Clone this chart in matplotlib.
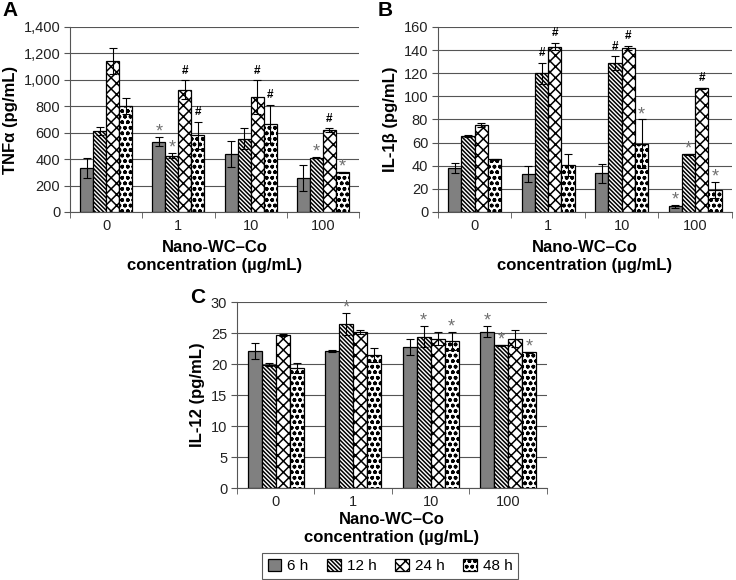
import matplotlib
matplotlib.use("Agg")
import matplotlib.pyplot as plt
import numpy as np

plt.rcParams['font.family'] = ['Liberation Sans', 'DejaVu Sans']
plt.rcParams['hatch.linewidth'] = 1.1

categories = ["0", "1", "10", "100"]
series = ["6 h", "12 h", "24 h", "48 h"]

tnf = [[330, 532, 439, 257],
       [610, 426, 555, 411],
       [1143, 926, 868, 620],
       [802, 580, 668, 300]]
tnf_err = [[75, 35, 95, 95],
           [30, 20, 80, 5],
           [100, 70, 128, 12],
           [60, 100, 145, 5]]
tnf_sig = [["", "*", "", ""],
           ["", "*", "", "*"],
           ["", "#", "#", "#"],
           ["", "#", "#", "*"]]

il1b = [[38, 33, 33.4, 4.9],
        [65.7, 120, 128.6, 49.9],
        [75.5, 143, 141.8, 107],
        [45.5, 41, 59, 19]]
il1b_err = [[4.5, 7, 8.5, 1.5],
            [0.5, 9, 6, 0.5],
            [1.8, 3, 2, 0.5],
            [0.5, 9.5, 21, 7]]
il1b_sig = [["", "", "", "*"],
            ["", "#", "#", "*"],
            ["", "#", "#", "#"],
            ["", "", "*", "*"]]

il12 = [[22.1, 22.1, 22.7, 25.2],
        [19.9, 26.5, 24.4, 23.0],
        [24.7, 25.2, 24.1, 24.1],
        [19.4, 21.45, 23.7, 21.9]]
il12_err = [[1.3, 0.2, 1.3, 0.9],
            [0.3, 1.8, 1.7, 0.1],
            [0.2, 0.3, 1.1, 1.4],
            [0.8, 1.2, 1.5, 0.1]]
il12_sig = [["", "", "", "*"],
            ["", "*", "*", "*"],
            ["", "", "", ""],
            ["", "", "*", "*"]]

faces = ["#808080", "white", "white", "white"]
hatches = [None, "\\" * 8, "xxx", "ooo"]

fig = plt.figure(figsize=(7.36, 5.8), dpi=100)


def panel(rect, data, err, sig, ylim, yticks, ylabel, ytickfmt, letter, letterpos, lp):
    ax = fig.add_axes(rect)
    x = np.arange(len(categories))
    w = 0.18
    handles = []
    for i in range(4):
        pos = x + (i - 1.5) * w
        b = ax.bar(pos, data[i], w, color=faces[i], edgecolor="black", linewidth=0.9,
                   hatch=hatches[i], zorder=3, label=series[i])
        ax.errorbar(pos, data[i], yerr=err[i], fmt="none", ecolor="black",
                    elinewidth=0.8, capsize=3, capthick=0.8, zorder=4)
        handles.append(b)
        for j in range(len(categories)):
            s = sig[i][j]
            if s:
                ytop = data[i][j] + err[i][j]
                if s == "*":
                    ax.text(pos[j], ytop - (ylim[1] - ylim[0]) * 0.02, "*", ha="center",
                            va="bottom", color="#707070", fontsize=13, zorder=5)
                else:
                    ax.text(pos[j], ytop + (ylim[1] - ylim[0]) * 0.02, "#", ha="center",
                            va="bottom", color="black", fontsize=8.5, fontweight="bold",
                            zorder=5)
    ax.set_xlim(-0.5, len(categories) - 0.5)
    ax.set_ylim(*ylim)
    ax.set_yticks(yticks)
    ax.set_yticklabels([ytickfmt(v) for v in yticks], fontsize=10.5, color="#222222")
    ax.set_xticks(x)
    ax.set_xticklabels(categories, fontsize=10.5, color="#222222")
    ax.set_xticks(np.arange(len(categories) + 1) - 0.5, minor=True)
    ax.tick_params(axis="x", which="major", length=0, pad=5)
    ax.tick_params(axis="x", which="minor", length=4, color="#555555")
    ax.tick_params(axis="y", length=4, color="#555555", pad=3)
    ax.grid(axis="y", color="#555555", linewidth=0.8, zorder=0)
    ax.set_axisbelow(True)
    for s in ["top", "right"]:
        ax.spines[s].set_visible(False)
    for s in ["left", "bottom"]:
        ax.spines[s].set_color("#555555")
        ax.spines[s].set_linewidth(0.8)
    ax.set_ylabel(ylabel, fontsize=12, fontweight="bold", labelpad=4)
    ax.set_xlabel("Nano-WC\u2013Co\nconcentration (\u00b5g/mL)", fontsize=12,
                  fontweight="bold", labelpad=lp, linespacing=1.3)
    fig.text(letterpos[0], letterpos[1], letter, fontsize=15, fontweight="bold",
             ha="left", va="top")
    return ax, handles


axA, h = panel([0.0951, 0.6345, 0.3927, 0.319], tnf, tnf_err, tnf_sig, (0, 1400),
               list(range(0, 1401, 200)), "TNF\u03b1 (pg/mL)",
               lambda v: f"{v:,}", "A", (0.004, 0.998), 5)
axB, _ = panel([0.595, 0.6345, 0.3995, 0.319], il1b, il1b_err, il1b_sig, (0, 160),
               list(range(0, 161, 20)), "IL-1\u03b2 (pg/mL)",
               lambda v: f"{v}", "B", (0.513, 0.998), 5)
axC, _ = panel([0.322, 0.1586, 0.421, 0.3207], il12, il12_err, il12_sig, (0, 30),
               list(range(0, 31, 5)), "IL-12 (pg/mL)",
               lambda v: f"{v}", "C", (0.259, 0.503), 2)

leg = fig.legend(h, series, loc="center", bbox_to_anchor=(390 / 736, 1 - 566 / 580),
                 ncol=4, fontsize=11, frameon=True, fancybox=False, edgecolor="#333333",
                 handlelength=0.9, handleheight=0.9, handletextpad=0.4, columnspacing=1.2,
                 borderpad=0.35)
leg.get_frame().set_linewidth(0.8)

fig.savefig("out.png", dpi=100)
